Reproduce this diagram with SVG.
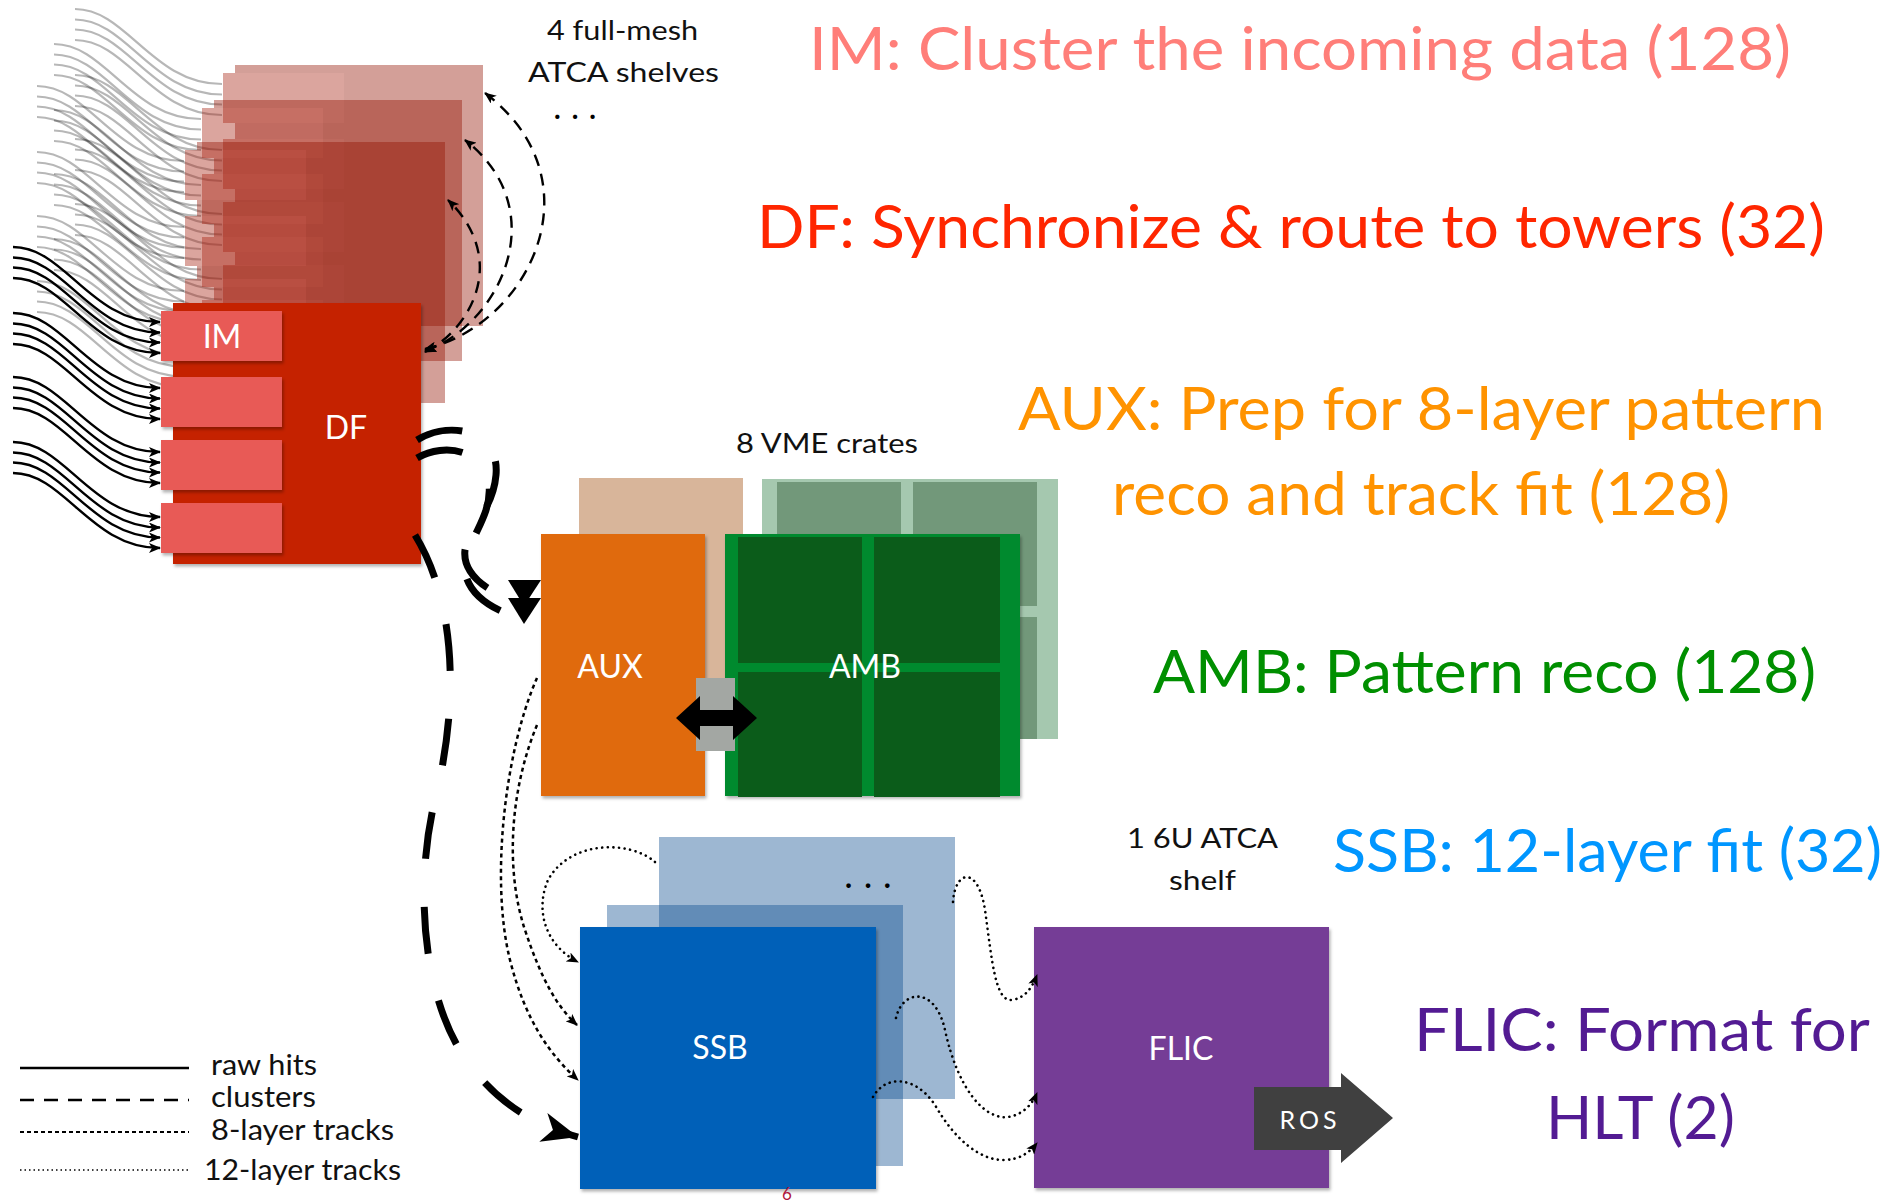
<svg xmlns="http://www.w3.org/2000/svg" width="1900" height="1203" viewBox="0 0 1900 1203">
<defs>
<style>
text { font-family: Lato, "Open Sans", "Liberation Sans", sans-serif; }
.big { font-size: 60px; }
.lbl { font-size: 32px; fill: #fff; text-anchor: middle; }
.note { font-size: 27px; fill: #111; }
.leg { font-size: 28px; fill: #111; }
.mesh { fill: none; stroke: #000; stroke-width: 2.4; stroke-dasharray: 12 8; marker-start: url(#ah); marker-end: url(#ah); }
.clu { fill: none; stroke: #000; stroke-width: 7; stroke-dasharray: 47 48; }
.t8 { fill: none; stroke: #000; stroke-width: 2.5; stroke-dasharray: 4 3.5; marker-end: url(#ah); }
.t12 { fill: none; stroke: #000; stroke-width: 2.6; stroke-dasharray: 0.1 5.5; stroke-linecap: round; marker-end: url(#ah); }
.sh { filter: url(#shadow); }
</style>
<filter id="shadow" x="-10%" y="-10%" width="130%" height="130%">
<feDropShadow dx="1.5" dy="2.5" stdDeviation="1.8" flood-color="#000" flood-opacity="0.3"/>
</filter>
<marker id="ah" viewBox="0 0 12 10" refX="11" refY="5" markerWidth="12" markerHeight="10" markerUnits="userSpaceOnUse" orient="auto-start-reverse">
<path d="M0,0 L12,5 L0,10 L3,5 Z" fill="#000"/>
</marker>
<marker id="big" viewBox="-38 -16 40 32" refX="0" refY="0" markerWidth="40" markerHeight="32" markerUnits="userSpaceOnUse" orient="auto">
<path d="M0,0 L-36,-15 L-26,0 L-36,15 Z" fill="#000"/>
</marker>
<g id="raw">
<path d="M13,247 C65,247 90,322 160,322"/>
<path d="M13,257.5 C65,257.5 90,332.5 160,332.5"/>
<path d="M13,267.5 C65,267.5 90,342.5 160,342.5"/>
<path d="M13,278 C65,278 90,353 160,353"/>
<path d="M13,313 C65,313 90,388 160,388"/>
<path d="M13,323.5 C65,323.5 90,398.5 160,398.5"/>
<path d="M13,333.5 C65,333.5 90,408.5 160,408.5"/>
<path d="M13,344 C65,344 90,419 160,419"/>
<path d="M13,377 C65,377 90,452 160,452"/>
<path d="M13,387.5 C65,387.5 90,462.5 160,462.5"/>
<path d="M13,397.5 C65,397.5 90,472.5 160,472.5"/>
<path d="M13,408 C65,408 90,483 160,483"/>
<path d="M13,442 C65,442 90,517 160,517"/>
<path d="M13,452.5 C65,452.5 90,527.5 160,527.5"/>
<path d="M13,462.5 C65,462.5 90,537.5 160,537.5"/>
<path d="M13,473 C65,473 90,548 160,548"/>
</g>
<g id="ghost">
<rect x="173" y="303" width="248" height="261" fill="#931100"/>
<rect x="161" y="311" width="121" height="50" fill="#a82010"/>
<rect x="161" y="377" width="121" height="50" fill="#a82010"/>
<rect x="161" y="440" width="121" height="50" fill="#a82010"/>
<rect x="161" y="503" width="121" height="50" fill="#a82010"/>
</g>
</defs>

<rect width="1900" height="1203" fill="#fff"/>

<!-- back ATCA shelves (ghost copies of DF) -->
<g id="shelves-back">
<use href="#raw" transform="translate(62,-238)" opacity="0.28" fill="none" stroke="#000" stroke-width="2.2"/>
<use href="#ghost" transform="translate(62,-238)" opacity="0.4"/>
<use href="#raw" transform="translate(41,-203)" opacity="0.28" fill="none" stroke="#000" stroke-width="2.2"/>
<use href="#ghost" transform="translate(41,-203)" opacity="0.4"/>
<use href="#raw" transform="translate(24,-161)" opacity="0.28" fill="none" stroke="#000" stroke-width="2.2"/>
<use href="#ghost" transform="translate(24,-161)" opacity="0.4"/>
</g>

<g id="node-DF">
<rect class="sh" x="173" y="303" width="248" height="261" fill="#C52100"/>
<text class="lbl" x="346" y="439">DF</text>
</g>
<g id="node-IM">
<rect class="sh" x="161" y="311" width="121" height="50" fill="#E85A57"/>
<rect class="sh" x="161" y="377" width="121" height="50" fill="#E85A57"/>
<rect class="sh" x="161" y="440" width="121" height="50" fill="#E85A57"/>
<rect class="sh" x="161" y="503" width="121" height="50" fill="#E85A57"/>
<text class="lbl" x="222" y="348">IM</text>
</g>

<g id="node-AUX">
<rect x="579" y="478" width="164" height="222" fill="#D8B59A"/>
<rect class="sh" x="541" y="534" width="164" height="262" fill="#E06A11"/>
<text class="lbl" x="610" y="678">AUX</text>
</g>

<g id="node-AMB">
<rect x="762" y="479" width="296" height="260" fill="#A5C8AF"/>
<rect x="777" y="482" width="124" height="124" fill="#72987A"/>
<rect x="913" y="482" width="124" height="124" fill="#72987A"/>
<rect x="777" y="617" width="124" height="122" fill="#72987A"/>
<rect x="913" y="617" width="124" height="122" fill="#72987A"/>
<rect class="sh" x="725" y="534" width="295" height="262" fill="#008A2E"/>
<rect x="738" y="537" width="124" height="126" fill="#0B5C1A"/>
<rect x="874" y="537" width="126" height="126" fill="#0B5C1A"/>
<rect x="738" y="672" width="124" height="125" fill="#0B5C1A"/>
<rect x="874" y="672" width="126" height="125" fill="#0B5C1A"/>
<text class="lbl" x="865" y="678">AMB</text>
</g>

<g id="node-SSB">
<rect x="659" y="837" width="296" height="262" fill="#0a4a8f" opacity="0.4"/>
<rect x="607" y="905" width="296" height="261" fill="#0a4a8f" opacity="0.4"/>
<text x="845" y="888" font-size="30" font-weight="bold" fill="#000" textLength="46" lengthAdjust="spacing">...</text>
<rect class="sh" x="580" y="927" width="296" height="262" fill="#0061B8"/>
<text class="lbl" x="720" y="1059">SSB</text>
</g>

<g id="node-FLIC">
<rect class="sh" x="1034" y="927" width="295" height="261" fill="#753C96"/>
<text class="lbl" x="1181" y="1060">FLIC</text>
</g>

<g id="node-ROS">
<polygon points="1254,1087 1341,1087 1341,1073 1393,1118 1341,1163 1341,1150 1254,1150" fill="#404040"/>
<text x="1310" y="1129" font-size="25" fill="#fff" text-anchor="middle" letter-spacing="4">ROS</text>
</g>

<g id="connectors">
<use href="#raw" fill="none" stroke="#000" stroke-width="2.4" marker-end="url(#ah)"/>
<!-- full mesh between shelves -->
<path class="mesh" d="M425,349 C530,325 600,180 485,93"/>
<path class="mesh" d="M425,351 C500,325 555,210 465,140"/>
<path class="mesh" d="M425,352 C470,330 510,260 448,200"/>
<!-- clusters DF -> AUX -->
<path class="clu" d="M417,440 C450,420 500,430 496,475 C493,510 470,525 465,550 C462,575 490,595 520,600"/>
<path class="clu" d="M417,458 C445,442 485,450 489,485 C492,515 470,535 465,565 C463,590 490,610 520,618"/>
<polygon points="508,580 541,580 524,606" fill="#000"/>
<polygon points="508,598 541,598 524,624" fill="#000"/>
<!-- clusters DF -> SSB -->
<path class="clu" d="M415,535 C455,600 460,700 435,800 C415,880 420,1000 470,1065 C500,1105 535,1125 578,1137" marker-end="url(#big)"/>
<!-- 8-layer tracks AUX -> SSB -->
<path class="t8" d="M537,678 C505,750 490,880 510,960 C525,1020 550,1055 578,1080"/>
<path class="t8" d="M537,725 C510,790 505,870 525,930 C540,975 555,1005 577,1025"/>
<!-- 12-layer tracks -->
<path class="t12" d="M655,862 C630,840 570,840 548,880 C535,910 545,945 578,962"/>
<path class="t12" d="M953,902 C955,870 978,865 985,910 C992,960 995,1002 1012,1000 C1025,998 1032,988 1037,975"/>
<path class="t12" d="M896,1018 C902,990 935,985 945,1030 C958,1090 985,1120 1008,1117 C1022,1115 1032,1105 1037,1093"/>
<path class="t12" d="M873,1097 C885,1075 915,1075 935,1105 C955,1140 980,1160 1003,1160 C1020,1160 1030,1152 1037,1143"/>
<!-- AUX <-> AMB -->
<rect x="696" y="678" width="39" height="73" fill="#A3A7A3"/>
<polygon points="676,718 700,696 700,710 733,710 733,696 757,718 733,740 733,726 700,726 700,740" fill="#000"/>
</g>

<g id="annotations">
<text class="note" x="547" y="40" textLength="151" lengthAdjust="spacingAndGlyphs">4 full-mesh</text>
<text class="note" x="528" y="82" textLength="191" lengthAdjust="spacingAndGlyphs">ATCA shelves</text>
<text x="554" y="119" font-size="28" font-weight="bold" fill="#000" textLength="42" lengthAdjust="spacing">...</text>
<text class="note" x="736" y="453" textLength="182" lengthAdjust="spacingAndGlyphs">8 VME crates</text>
<text class="note" x="1127" y="848" textLength="151" lengthAdjust="spacingAndGlyphs">1 6U ATCA</text>
<text class="note" x="1169" y="890" textLength="67" lengthAdjust="spacingAndGlyphs">shelf</text>
<text x="787" y="1200" font-size="17" fill="#B0163C" text-anchor="middle">6</text>
</g>

<g id="titles">
<text class="big" x="809" y="70" fill="#FF7E79" textLength="982" lengthAdjust="spacingAndGlyphs">IM: Cluster the incoming data (128)</text>
<text class="big" x="757" y="248" fill="#FF2600" textLength="1068" lengthAdjust="spacingAndGlyphs">DF: Synchronize &amp; route to towers (32)</text>
<text class="big" x="1018" y="430" fill="#FF9300" textLength="807" lengthAdjust="spacingAndGlyphs">AUX: Prep for 8-layer pattern</text>
<text class="big" x="1112" y="515" fill="#FF9300" textLength="618" lengthAdjust="spacingAndGlyphs">reco and track fit (128)</text>
<text class="big" x="1153" y="693" fill="#008F00" textLength="663" lengthAdjust="spacingAndGlyphs">AMB: Pattern reco (128)</text>
<text class="big" x="1333" y="872" fill="#0096FF" textLength="549" lengthAdjust="spacingAndGlyphs">SSB: 12-layer fit (32)</text>
<text class="big" x="1414" y="1051" fill="#531B93" textLength="456" lengthAdjust="spacingAndGlyphs">FLIC: Format for</text>
<text class="big" x="1546" y="1139" fill="#531B93" textLength="189" lengthAdjust="spacingAndGlyphs">HLT (2)</text>
</g>

<g id="legend">
<line x1="20" y1="1068" x2="189" y2="1068" stroke="#000" stroke-width="2.5"/>
<line x1="20" y1="1100" x2="189" y2="1100" stroke="#000" stroke-width="2.5" stroke-dasharray="14 10"/>
<line x1="20" y1="1132" x2="189" y2="1132" stroke="#000" stroke-width="2" stroke-dasharray="4 3"/>
<line x1="20" y1="1170" x2="189" y2="1170" stroke="#000" stroke-width="1.5" stroke-dasharray="1.5 3"/>
<text class="leg" x="211" y="1075" textLength="106" lengthAdjust="spacingAndGlyphs">raw hits</text>
<text class="leg" x="211" y="1107" textLength="105" lengthAdjust="spacingAndGlyphs">clusters</text>
<text class="leg" x="211" y="1140" textLength="183" lengthAdjust="spacingAndGlyphs">8-layer tracks</text>
<text class="leg" x="204" y="1180" textLength="197" lengthAdjust="spacingAndGlyphs">12-layer tracks</text>
</g>
</svg>
